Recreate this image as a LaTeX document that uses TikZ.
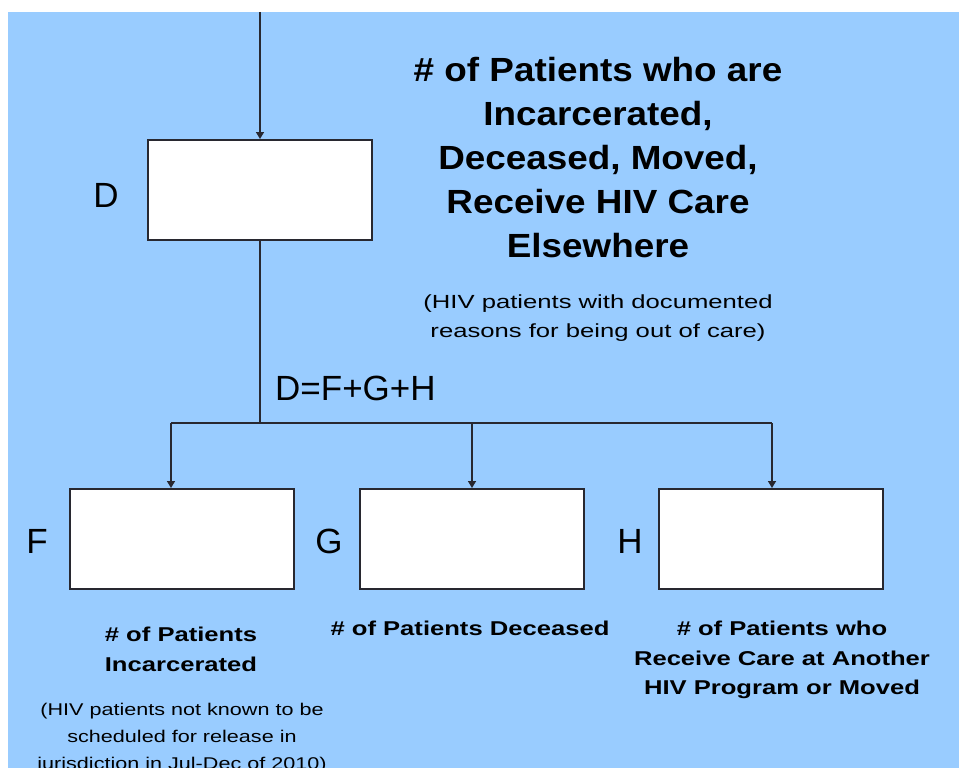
\documentclass[tikz,border=0pt]{standalone}
\usepackage{fontspec}
\setmainfont{Liberation Sans}
\newfontfamily\titlefont[FakeStretch=1.1]{Liberation Sans}
\newfontfamily\lblfont[FakeStretch=1.28]{Liberation Sans}
\newfontfamily\subfontA[FakeStretch=1.35]{Liberation Sans}
\newfontfamily\subfontB[FakeStretch=1.27]{Liberation Sans}
\usetikzlibrary{arrows.meta}
\definecolor{bgblue}{RGB}{153,204,255}
\definecolor{linec}{RGB}{40,40,48}
\begin{document}
\begin{tikzpicture}[x=1pt,y=-1pt,
  box/.style={draw=linec,line width=2pt,fill=white,minimum width=224pt,minimum height=100pt,inner sep=0pt},
  conn/.style={draw=linec,line width=1.5pt},
  arr/.style={conn,-{Triangle[width=8pt,length=7pt]}},
  letter/.style={font=\fontsize{35}{38}\selectfont,text=black,inner sep=0pt},
  title/.style={font=\titlefont\bfseries\fontsize{33.5}{44}\selectfont,align=center,inner sep=0pt,anchor=north},
  subA/.style={font=\subfontA\fontsize{19}{29}\selectfont,align=center,inner sep=0pt,anchor=north},
  subB/.style={font=\subfontB\fontsize{17}{27}\selectfont,align=center,inner sep=0pt,anchor=north},
  lbl/.style={font=\lblfont\bfseries\fontsize{20}{29.5}\selectfont,align=center,inner sep=0pt,anchor=north}]
\useasboundingbox (0,0) rectangle (959,768);
\fill[bgblue] (8,12) rectangle (959,768);
\coordinate (top) at (260,12);
\node[box] (D) at (260,190) {};
\node[box] (F) at (182,539) {};
\node[box] (G) at (471.5,539) {};
\node[box] (H) at (771,539) {};
\coordinate (j) at (260,423);
\coordinate (jF) at (171,423);
\coordinate (jG) at (472,423);
\coordinate (jH) at (772,423);
\draw[arr] (top) -- (D.north);
\draw[conn] (D.south) -- (j);
\draw[conn] (jF) -- (jH);
\draw[arr] (jF) -- (jF |- F.north);
\draw[arr] (jG) -- (jG |- G.north);
\draw[arr] (jH) -- (jH |- H.north);
\node[letter] (lD) at (106,195) {D};
\node[letter] (lF) at (37,541) {F};
\node[letter] (lG) at (329,541) {G};
\node[letter] (lH) at (630,541) {H};
\node[letter,anchor=west] (eq) at (275,388) {D=F+G+H};
\node[title] (t) at (598,57) {\# of Patients who are\\Incarcerated,\\Deceased, Moved,\\Receive HIV Care\\Elsewhere};
\node[subA] (ts) at (598,295) {(HIV patients with documented\\reasons for being out of care)};
\node[lbl] (fl) at (181,627) {\# of Patients\\Incarcerated};
\node[subB] (fs) at (182,703) {(HIV patients not known to be\\scheduled for release in\\jurisdiction in Jul-Dec of 2010)};
\node[lbl] (gl) at (470,621) {\# of Patients Deceased};
\node[lbl] (hl) at (782,621) {\# of Patients who\\Receive Care at Another\\HIV Program or Moved};
\end{tikzpicture}
\end{document}
